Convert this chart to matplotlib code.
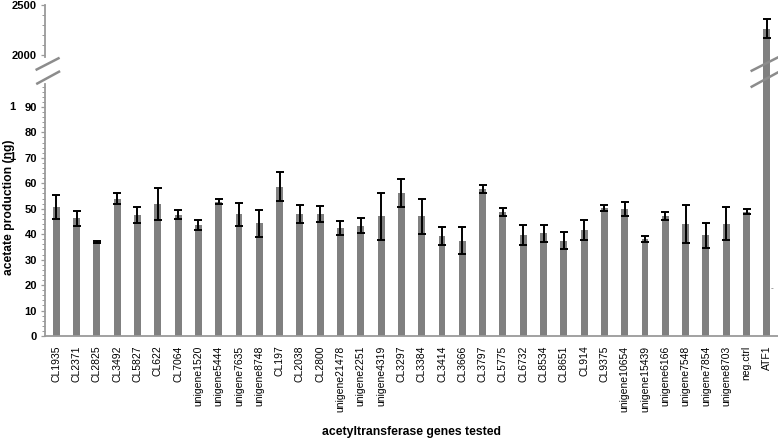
import matplotlib
matplotlib.use('Agg')
import numpy as np
import matplotlib.pyplot as plt
from matplotlib.ticker import MultipleLocator, FixedLocator
from matplotlib.lines import Line2D

plt.rcParams['font.family'] = ['Liberation Sans', 'DejaVu Sans']

genes = ['CL1935', 'CL2371', 'CL2825', 'CL3492', 'CL5827', 'CL622', 'CL7064',
         'unigene1520', 'unigene5444', 'unigene7635', 'unigene8748', 'CL197',
         'CL2038', 'CL2800', 'unigene21478', 'unigene2251', 'unigene4319',
         'CL3297', 'CL3384', 'CL3414', 'CL3666', 'CL3797', 'CL5775', 'CL6732',
         'CL8534', 'CL8651', 'CL914', 'CL9375', 'unigene10654', 'unigene15439',
         'unigene6166', 'unigene7548', 'unigene7854', 'unigene8703', 'neg.ctrl',
         'ATF1']
acetate = [50.5, 46.2, 37.0, 54.0, 47.5, 52.0, 47.7, 43.6, 52.7, 47.8, 44.2,
           58.7, 47.9, 48.0, 42.4, 43.4, 47.0, 56.2, 47.0, 39.2, 37.5, 57.7,
           48.7, 39.7, 40.3, 37.4, 41.7, 50.3, 50.0, 38.0, 47.2, 44.1, 39.5,
           44.1, 48.9, 2265.0]
err = [4.7, 2.8, 0.5, 2.2, 3.2, 6.3, 1.7, 2.0, 1.0, 4.4, 5.2, 5.7, 3.6, 3.2,
       2.8, 2.9, 9.2, 5.4, 6.8, 3.6, 5.3, 1.7, 1.7, 4.0, 3.3, 3.4, 3.8, 1.3,
       2.8, 1.2, 1.5, 7.5, 4.9, 6.5, 0.8, 92.0]

W, H = 778, 442
fig = plt.figure(figsize=(W / 100, H / 100), dpi=100)

def rect(x0, y0, x1, y1):
    # pixel box (top-left origin) -> figure fraction
    return [x0 / W, 1 - y1 / H, (x1 - x0) / W, (y1 - y0) / H]

L = 44.5
ax_lo = fig.add_axes(rect(L, 84, 778, 336))
ax_mid = fig.add_axes(rect(L, 57, 778, 84))
ax_hi = fig.add_axes(rect(L, 5, 778, 57))

x = np.arange(len(genes))
bar_c = '#808080'
spine_c = '#9a9a9a'

for ax in (ax_lo, ax_mid, ax_hi):
    ax.bar(x, acetate, width=0.34, color=bar_c, zorder=2)
    ax.set_xlim(-0.58, 35.55)
    for s in ('top', 'right'):
        ax.spines[s].set_visible(False)
    ax.set_xticks([])

ebkw = dict(fmt='none', ecolor='black', elinewidth=1.4, capsize=3.0, capthick=1.4, zorder=3)
ax_lo.errorbar(x, acetate, yerr=err, **ebkw)
ax_hi.errorbar(x, acetate, yerr=err, **ebkw)

# lower axis
ax_lo.set_ylim(0, 99)
ax_lo.yaxis.set_major_locator(FixedLocator(range(0, 100, 10)))
ax_lo.yaxis.set_minor_locator(MultipleLocator(2))
for s in ('left', 'bottom'):
    ax_lo.spines[s].set_color(spine_c)
    ax_lo.spines[s].set_linewidth(1.3)
ax_lo.set_xticks(x)
ax_lo.set_xticklabels(genes, rotation=90, fontsize=7.5)
ax_lo.tick_params(axis='x', length=0, pad=7)
ax_lo.set_ylabel('acetate production (ng)', fontsize=8.7, fontweight='bold')
ax_lo.yaxis.set_label_coords(-(L - 15) / (778 - L), 0.51)
ax_lo.set_xlabel('acetyltransferase genes tested', fontsize=8.8, fontweight='bold')
ax_lo.xaxis.set_label_coords(0.5, -96 / 252)
ax_lo.xaxis.label.set_va('center')

# upper axis
ax_hi.set_ylim(1980, 2500)
ax_hi.yaxis.set_major_locator(FixedLocator([2000, 2500]))
ax_hi.yaxis.set_minor_locator(MultipleLocator(100))
ax_hi.spines['bottom'].set_visible(False)
ax_hi.spines['left'].set_color(spine_c)
ax_hi.spines['left'].set_linewidth(1.3)

# break zone
ax_mid.set_ylim(99, 1980)
ax_mid.axis('off')

for ax in (ax_lo, ax_hi):
    ax.tick_params(axis='y', which='major', length=3, width=0.9, color=spine_c,
                   labelsize=8, pad=2.4)
    ax.tick_params(axis='y', which='minor', length=2, width=0.7, color=spine_c)
    for lb in ax.get_yticklabels():
        lb.set_fontweight('bold')

# break marks
for (x0, y0, x1, y1) in [(36.7, 69.5, 58.5, 58.3), (37.3, 83.5, 59.0, 71.7),
                         (751.7, 70.7, 777.3, 57.7), (751.7, 86.7, 777.3, 72.7)]:
    fig.add_artist(Line2D([x0 / W, x1 / W], [1 - y0 / H, 1 - y1 / H],
                          color='#8c8c8c', lw=1.8))

# stray marks from the original figure
fig.text(12.5 / W, 1 - 106.5 / H, '1', fontsize=8, fontweight='bold', ha='center', va='center')
fig.text(12.5 / W, 1 - 157 / H, '1', fontsize=8, fontweight='bold', ha='center', va='center')
fig.text(772 / W, 1 - 289 / H, '-', fontsize=6, color='#666666', ha='center', va='center')

fig.savefig('out.png', dpi=100)
